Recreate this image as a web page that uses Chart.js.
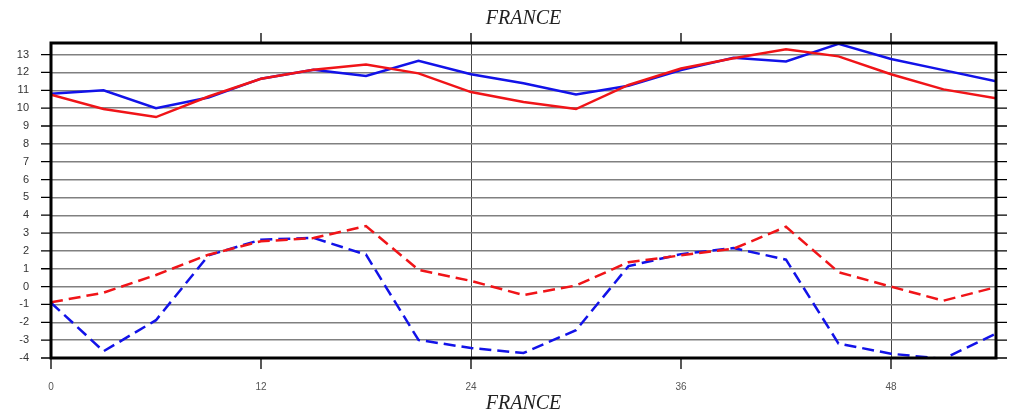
<!DOCTYPE html>
<html>
<head>
<meta charset="utf-8">
<script src="https://cdn.jsdelivr.net/npm/chart.js@4/dist/chart.umd.min.js"></script>
<style>
  html, body { margin: 0; padding: 0; background: #fff; }
  #wrap { width: 1012px; height: 414px; }
</style>
</head>
<body>
<div id="wrap"><canvas id="myChart"></canvas></div>
<script>
// data (hours, every 3 h)
const hours = [0, 3, 6, 9, 12, 15, 18, 21, 24, 27, 30, 33, 36, 39, 42, 45, 48, 51, 54];
const redSolid = [10.75, 9.95, 9.5, 10.65, 11.65, 12.15, 12.45, 11.95, 10.9, 10.35, 9.95, 11.3, 12.22, 12.8, 13.3, 12.9, 11.9, 11.05, 10.55];
const blueSolid = [10.8, 11.0, 10.0, 10.6, 11.65, 12.15, 11.8, 12.65, 11.9, 11.4, 10.77, 11.25, 12.13, 12.82, 12.62, 13.6, 12.75, 12.13, 11.5];
const redDash = [-0.88, -0.34, 0.65, 1.79, 2.54, 2.72, 3.39, 0.94, 0.32, -0.47, 0.06, 1.37, 1.75, 2.12, 3.35, 0.81, 0.0, -0.79, -0.03];
const blueDash = [-0.9, -3.62, -1.88, 1.75, 2.63, 2.73, 1.79, -2.99, -3.44, -3.72, -2.44, 1.15, 1.82, 2.16, 1.51, -3.19, -3.76, -4.05, -2.63];
const xTicks = [0, 12, 24, 36, 48];
const titleText = 'FRANCE';

function pts(vals) {
    return hours.map(function (h, i) { return { x: h, y: vals[i] }; });
}

// Frame and outer tick marks
const frame = {
    id: 'frame',
    afterDraw(chart) {
        const c = chart.ctx;
        const a = chart.chartArea;
        const xs = chart.scales.x;
        const ys = chart.scales.y;
        c.save();
        c.strokeStyle = '#000';
        c.lineWidth = 1.3;
        c.beginPath();
        for (let v = -4; v <= 13; v++) {
            const y = ys.getPixelForValue(v);
            c.moveTo(a.left - 10, y); c.lineTo(a.left, y);
            c.moveTo(a.right, y); c.lineTo(a.right + 11, y);
        }
        xTicks.forEach(function (t) {
            const x = xs.getPixelForValue(t);
            if (t > 0) { c.moveTo(x, a.top - 10); c.lineTo(x, a.top); }
            c.moveTo(x, a.bottom); c.lineTo(x, a.bottom + 11);
        });
        c.stroke();
        c.lineWidth = 3;
        c.strokeRect(a.left, a.top, a.right - a.left, a.bottom - a.top);
        c.restore();
    }
};

const titleFont = { family: 'Liberation Serif', size: 20, style: 'italic', weight: 'normal', lineHeight: 1.2 };

const ctx = document.getElementById('myChart').getContext('2d');
const myChart = new Chart(ctx, {
    type: 'line',
    data: {
        datasets: [
            { data: pts(redSolid), borderColor: '#f01418', borderWidth: 2.5, pointRadius: 0, tension: 0 },
            { data: pts(blueSolid), borderColor: '#1212e8', borderWidth: 2.5, pointRadius: 0, tension: 0 },
            { data: pts(redDash), borderColor: '#f01418', borderWidth: 2.5, borderDash: [12, 6], pointRadius: 0, tension: 0 },
            { data: pts(blueDash), borderColor: '#1212e8', borderWidth: 2.5, borderDash: [12, 6], pointRadius: 0, tension: 0 }
        ]
    },
    options: {
        responsive: true,
        maintainAspectRatio: false,
        animation: false,
        layout: {
            padding: { left: 0, right: 16, top: 0, bottom: 0 }
        },
        plugins: {
            legend: { display: false },
            tooltip: { enabled: false },
            title: { display: false }
        },
        scales: {
            xTop: {
                type: 'linear',
                position: 'top',
                min: 0,
                max: 54,
                afterFit: function (s) { s.height = 43; },
                border: { display: false },
                grid: { display: false, drawTicks: false },
                ticks: { display: false },
                title: {
                    display: true,
                    text: titleText,
                    color: '#222',
                    padding: { top: 7, bottom: 0 },
                    font: titleFont
                }
            },
            x: {
                type: 'linear',
                min: 0,
                max: 54,
                afterFit: function (s) { s.height = 56; },
                border: { display: false },
                grid: {
                    drawTicks: false,
                    lineWidth: 1,
                    color: function (c) {
                        return (c.tick && (c.tick.value === 24 || c.tick.value === 48)) ? '#444' : 'rgba(0,0,0,0)';
                    }
                },
                ticks: {
                    stepSize: 12,
                    includeBounds: false,
                    maxRotation: 0,
                    padding: 23,
                    color: '#555',
                    font: { family: 'Liberation Sans', size: 10 }
                },
                title: {
                    display: true,
                    text: titleText,
                    color: '#222',
                    padding: 0,
                    font: { family: 'Liberation Serif', size: 20, style: 'italic', weight: 'normal', lineHeight: 1 }
                }
            },
            y: {
                min: -4,
                max: 13.65,
                afterFit: function (s) { s.width = 51; },
                border: { display: false },
                grid: {
                    drawTicks: false,
                    color: '#808080',
                    lineWidth: 1.4
                },
                ticks: {
                    stepSize: 1,
                    includeBounds: false,
                    padding: 22,
                    color: '#333',
                    font: { family: 'Liberation Sans', size: 11 }
                }
            }
        }
    },
    plugins: [frame]
});
</script>
</body>
</html>
